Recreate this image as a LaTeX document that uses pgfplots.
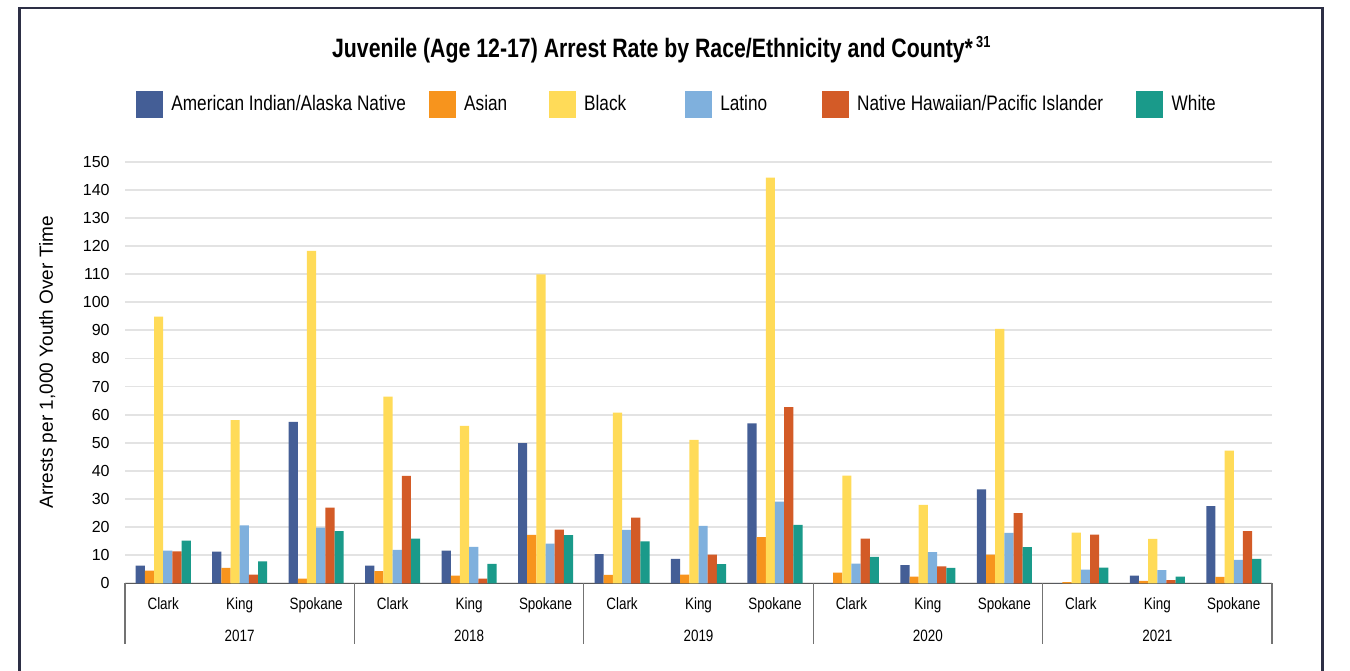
\documentclass[border=0pt]{standalone}
\usepackage{fontspec}
\setmainfont{Liberation Sans}
\newfontfamily\condfont[FakeStretch=0.82]{Liberation Sans}
\newfontfamily\titlefont[FakeStretch=0.80]{Liberation Sans}
\usepackage{pgfplots}
\usepackage{pgfplotstable}
\pgfplotsset{compat=1.18}
\definecolor{caian}{HTML}{445E96}
\definecolor{casian}{HTML}{F7941D}
\definecolor{cblack}{HTML}{FFDB58}
\definecolor{clatino}{HTML}{7FB0DD}
\definecolor{cnhpi}{HTML}{D35B27}
\definecolor{cwhite}{HTML}{1A9A8A}
\definecolor{framecol}{HTML}{2D2F45}
\pgfplotstableread{
x aian asian black latino nhpi white
0 6.3 4.5 94.9 11.6 11.4 15.2
1 11.3 5.5 58.1 20.6 3.1 7.8
2 57.4 1.7 118.3 19.8 26.9 18.6
3 6.3 4.3 66.4 11.9 38.2 15.9
4 11.6 2.7 56.0 13.0 1.7 6.9
5 49.9 17.2 109.9 14.1 19.1 17.1
6 10.4 3.0 60.7 19.0 23.4 14.9
7 8.7 3.1 51.0 20.4 10.2 6.8
8 56.9 16.4 144.3 29.1 62.7 20.8
9 0 3.8 38.3 7.0 15.9 9.4
10 6.5 2.4 27.9 11.1 6.0 5.5
11 33.4 10.2 90.5 17.9 25.0 12.9
12 0 0.4 18.0 4.9 17.3 5.6
13 2.7 0.9 15.8 4.7 1.1 2.4
14 27.5 2.3 47.2 8.3 18.6 8.7
}\datatable
\begin{document}
\begin{tikzpicture}
\useasboundingbox (0,0) rectangle (675pt,335pt);
\fill[white] (0,0) rectangle (675pt,335pt);
\draw[line width=1.35pt, color=framecol] (9.65pt,-5pt) -- (9.65pt,331pt) -- (661.35pt,331pt) -- (661.35pt,-5pt);
\node[anchor=base west, inner sep=0pt, font=\titlefont\bfseries\fontsize{13.3}{15}\selectfont] at (165.85pt,306pt) {Juvenile (Age 12-17) Arrest Rate by Race/Ethnicity and County*\textsuperscript{\,\fontsize{8}{9}\selectfont 31}};
\begin{axis}[
  at={(62.5pt,43.35pt)}, anchor=south west,
  scale only axis, width=573.5pt, height=210.8pt,
  xmin=-0.5, xmax=14.5, ymin=0, ymax=150,
  ytick={0,10,...,150},
  xtick={0,...,14},
  xticklabels={Clark,King,Spokane,Clark,King,Spokane,Clark,King,Spokane,Clark,King,Spokane,Clark,King,Spokane},
  major tick length=0pt,
  axis x line*=bottom, axis y line*=left,
  x axis line style={-, draw=black!65, line width=0.8pt},
  y axis line style={draw=none},
  ymajorgrids, grid style={black!11, line width=0.9pt},
  /pgf/number format/assume math mode=true,
  yticklabel style={font=\fontsize{8}{9}\selectfont, inner sep=0pt, xshift=-7.5pt},
  xticklabel style={font=\condfont\fontsize{8.2}{9}\selectfont, anchor=base, yshift=-13pt},
  ylabel={Arrests per 1,000 Youth Over Time},
  ylabel style={font=\fontsize{9.5}{11}\selectfont, at={(axis description cs:-0.0671,0.524)}, anchor=center},
  clip=false,
  ybar, bar width=0.12,
  legend columns=6,
  legend style={at={(axis description cs:0.0096,1.135)}, anchor=west, draw=none, fill=none,
    inner sep=0pt, outer sep=0pt, nodes={inner sep=0pt},
    font=\condfont\fontsize{10.5}{12}\selectfont,
    /tikz/every odd column/.append style={column sep=4.2pt},
    /tikz/every even column/.append style={column sep=0pt}},
  legend image code/.code={\fill[#1] (0pt,-6.75pt) rectangle (13.5pt,6.75pt);},
]
\addplot[fill=caian, draw=none, bar shift=-0.30] table[x=x,y=aian]{\datatable};
\addlegendentry{American Indian/Alaska Native\rule{11.45pt}{0pt}}
\addplot[fill=casian, draw=none, bar shift=-0.18] table[x=x,y=asian]{\datatable};
\addlegendentry{Asian\rule{20.75pt}{0pt}}
\addplot[fill=cblack, draw=none, bar shift=-0.06] table[x=x,y=black]{\datatable};
\addlegendentry{Black\rule{29.3pt}{0pt}}
\addplot[fill=clatino, draw=none, bar shift=0.06] table[x=x,y=latino]{\datatable};
\addlegendentry{Latino\rule{27.3pt}{0pt}}
\addplot[fill=cnhpi, draw=none, bar shift=0.18] table[x=x,y=nhpi]{\datatable};
\addlegendentry{Native Hawaiian/Pacific Islander\rule{16.55pt}{0pt}}
\addplot[fill=cwhite, draw=none, bar shift=0.30] table[x=x,y=white]{\datatable};
\addlegendentry{White}
\foreach \s in {-0.5,2.5,5.5,8.5,11.5,14.5} {
  \edef\tmp{\noexpand\draw[black!55, line width=0.6pt] (axis cs:\s,0) -- ([yshift=-30.5pt]axis cs:\s,0);}
  \tmp
}
\foreach \c/\yr in {1/2017,4/2018,7/2019,10/2020,13/2021} {
  \edef\tmp{\noexpand\node[anchor=base, inner sep=0pt, font=\noexpand\condfont\noexpand\fontsize{8.2}{9}\noexpand\selectfont] at (axis cs:\c,0) [yshift=-29pt] {\yr};}
  \tmp
}
\end{axis}
\end{tikzpicture}
\end{document}
